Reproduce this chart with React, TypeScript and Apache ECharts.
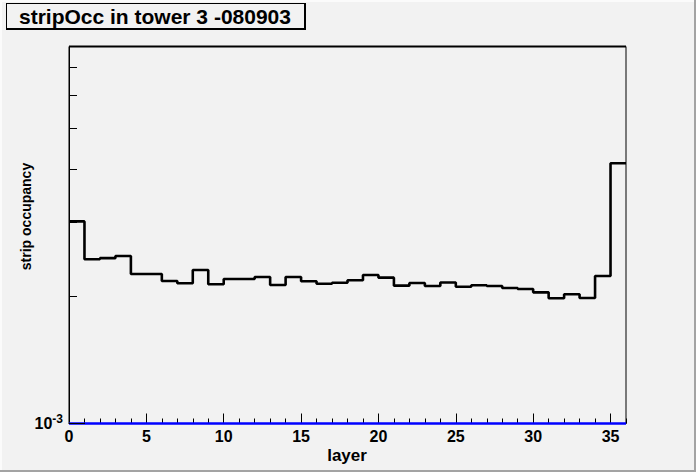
import { useEffect, useRef } from "react";
import * as echarts from "echarts";

// ---- data ----
const occupancy = [
  3.02e-3, 2.455e-3, 2.47e-3, 2.5e-3, 2.265e-3, 2.265e-3, 2.18e-3, 2.153e-3,
  2.315e-3, 2.141e-3, 2.204e-3, 2.204e-3, 2.228e-3, 2.133e-3, 2.228e-3, 2.177e-3,
  2.148e-3, 2.16e-3, 2.189e-3, 2.253e-3, 2.22e-3, 2.125e-3, 2.157e-3, 2.121e-3,
  2.162e-3, 2.113e-3, 2.13e-3, 2.121e-3, 2.098e-3, 2.087e-3, 2.049e-3, 1.983e-3,
  2.027e-3, 1.987e-3, 2.241e-3, 4.15e-3,
];
// second (empty) histogram, drawn at the bottom of the log axis
const emptyHistogram = [
  1e-3, 1e-3, 1e-3, 1e-3, 1e-3, 1e-3, 1e-3, 1e-3, 1e-3, 1e-3, 1e-3, 1e-3,
  1e-3, 1e-3, 1e-3, 1e-3, 1e-3, 1e-3, 1e-3, 1e-3, 1e-3, 1e-3, 1e-3, 1e-3,
  1e-3, 1e-3, 1e-3, 1e-3, 1e-3, 1e-3, 1e-3, 1e-3, 1e-3, 1e-3, 1e-3, 1e-3,
];
const xMin = 0;
const xMax = 36;
const xMajorInterval = 5;
const xMinorInterval = 1;
const yMin = 1e-3;
const yMax = 7.86e-3;
const yMajorTickValues = [1e-3];
const yMinorTickValues = [2e-3, 3e-3, 4e-3, 5e-3, 6e-3, 7e-3];
const titleText = "stripOcc in tower 3 -080903";
const xTitle = "layer";
const yTitle = "strip occupancy";

const FONT = "'Liberation Sans', Arial, Helvetica, sans-serif";
const BG = "#f2f2f2";

function toStep(vals: number[]) {
  const pts = vals.map((v, i) => [i, v]);
  pts.push([vals.length, vals[vals.length - 1]]);
  return pts;
}

export default function App() {
  const ref = useRef<HTMLDivElement>(null);

  useEffect(() => {
    document.body.style.margin = "0";
    const el = ref.current!;
    const chart = echarts.init(el, undefined, { renderer: "svg", width: 696, height: 472 });

    chart.setOption({
      animation: false,
      backgroundColor: BG,
      grid: {
        left: 69,
        right: 70,
        top: 46.5,
        bottom: 48.5,
        show: true,
        borderColor: "#000",
        borderWidth: 1,
        backgroundColor: "transparent",
      },
      xAxis: [
        {
          type: "value",
          min: xMin,
          max: xMax,
          interval: xMajorInterval,
          position: "bottom",
          axisLine: { show: true, lineStyle: { color: "#000", width: 1 } },
          axisTick: { show: true, inside: true, length: 10, lineStyle: { color: "#000", width: 1 } },
          minorTick: { show: false },
          splitLine: { show: false },
          axisLabel: {
            show: true,
            color: "#000",
            fontFamily: FONT,
            fontWeight: "bold",
            fontSize: 16,
            margin: 5,
            showMaxLabel: false,
          },
        },
        {
          type: "value",
          min: xMin,
          max: xMax,
          interval: xMinorInterval,
          position: "bottom",
          axisLine: { show: false },
          axisTick: { show: true, inside: true, length: 5, lineStyle: { color: "#000", width: 1 } },
          splitLine: { show: false },
          axisLabel: { show: false },
        },
      ],
      yAxis: {
        type: "log",
        logBase: 10,
        min: yMin,
        max: yMax,
        axisLine: { show: true, lineStyle: { color: "#000", width: 1 } },
        axisTick: { show: false },
        splitLine: { show: false },
        minorTick: { show: false },
        axisLabel: {
          show: true,
          margin: 6,
          showMaxLabel: false,
          formatter: (v: number) => {
            const e = Math.log10(v);
            if (Math.abs(e - Math.round(e)) < 1e-6) return `{a|10}{b|${Math.round(e)}}`;
            return "";
          },
          rich: {
            a: { fontFamily: FONT, fontWeight: "bold", fontSize: 16, color: "#000", lineHeight: 22 },
            b: { fontFamily: FONT, fontWeight: "bold", fontSize: 12, color: "#000", lineHeight: 12, verticalAlign: "top" },
          },
        },
      },
      series: [
        {
          type: "line",
          step: "end",
          xAxisIndex: 0,
          data: toStep(emptyHistogram),
          showSymbol: false,
          clip: false,
          lineStyle: { color: "#0000ff", width: 2.5 },
          z: 3,
          silent: true,
        },
        {
          type: "line",
          step: "end",
          xAxisIndex: 0,
          data: toStep(occupancy),
          showSymbol: false,
          lineStyle: { color: "#000", width: 2.6 },
          z: 4,
          silent: true,
        },
      ],
    });

    const gx = chart.convertToPixel({ xAxisIndex: 0 }, xMin) as number;
    const gxr = chart.convertToPixel({ xAxisIndex: 0 }, xMax) as number;
    const gyTop = chart.convertToPixel({ yAxisIndex: 0 }, yMax) as number;
    const ticks = [
      ...yMajorTickValues.map((v) => ({ v, len: 16 })),
      ...yMinorTickValues.map((v) => ({ v, len: 8 })),
    ];
    const tickEls = ticks.map((t) => {
      const y = Math.round(chart.convertToPixel({ yAxisIndex: 0 }, t.v) as number) - 0.5;
      return {
        type: "line",
        shape: { x1: gx, y1: y, x2: gx + t.len, y2: y },
        style: { stroke: "#000", lineWidth: 1 },
        z: 100,
      };
    });

    chart.setOption({
      graphic: [
        // canvas bevel
        { type: "rect", shape: { x: 0, y: 0, width: 696, height: 2 }, style: { fill: "#fbfbfb" }, z: 1 },
        { type: "rect", shape: { x: 0, y: 0, width: 2, height: 472 }, style: { fill: "#fbfbfb" }, z: 1 },
        { type: "rect", shape: { x: 694, y: 0, width: 2, height: 472 }, style: { fill: "#a3a3a3" }, z: 1 },
        { type: "rect", shape: { x: 0, y: 470, width: 696, height: 2 }, style: { fill: "#a3a3a3" }, z: 1 },
        // thicker top frame line
        { type: "line", shape: { x1: gx, y1: gyTop, x2: gxr, y2: gyTop }, style: { stroke: "#000", lineWidth: 2 }, z: 100 },
        // title box with shadow
        { type: "rect", shape: { x: 6, y: 3, width: 300, height: 27 }, style: { fill: "#000" }, z: 10 },
        { type: "rect", shape: { x: 7, y: 4, width: 297, height: 24 }, style: { fill: BG }, z: 11 },
        {
          type: "text",
          x: 19,
          y: 16.5,
          style: {
            text: titleText,
            fontFamily: FONT,
            fontWeight: "bold",
            fontSize: 21,
            fill: "#000",
            align: "left",
            verticalAlign: "middle",
          },
          z: 12,
        },
        {
          type: "text",
          x: 347,
          y: 455,
          style: {
            text: xTitle,
            fontFamily: FONT,
            fontWeight: "bold",
            fontSize: 17,
            fill: "#000",
            align: "center",
            verticalAlign: "middle",
          },
          z: 12,
        },
        {
          type: "text",
          x: 26,
          y: 216.5,
          rotation: Math.PI / 2,
          style: {
            text: yTitle,
            fontFamily: FONT,
            fontWeight: "bold",
            fontSize: 14,
            fill: "#000",
            align: "center",
            verticalAlign: "middle",
          },
          z: 12,
        },
        ...tickEls,
      ],
    });

    return () => {
      chart.dispose();
    };
  }, []);

  return (
    <div
      ref={ref}
      style={{ position: "fixed", left: 0, top: 0, width: 696, height: 472, background: BG }}
    />
  );
}
